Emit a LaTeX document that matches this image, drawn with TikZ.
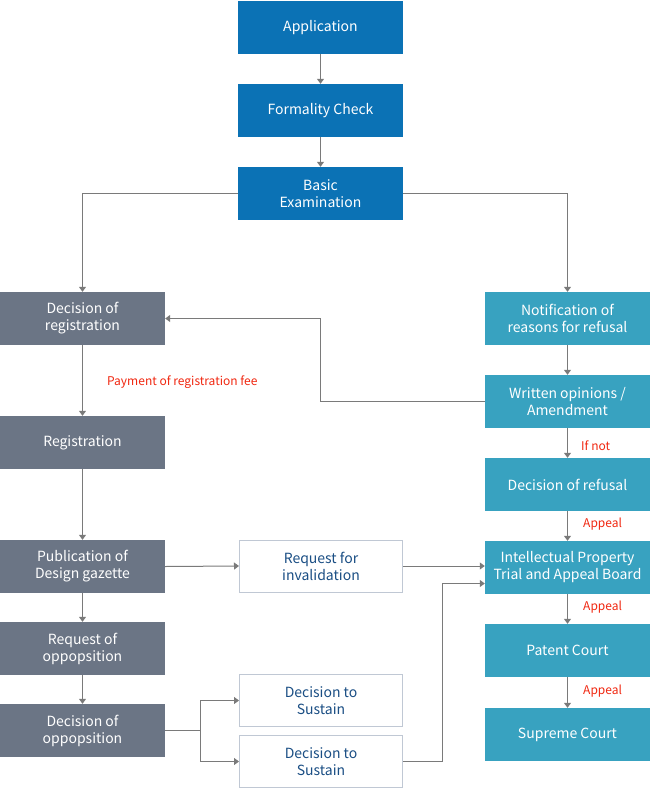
\documentclass[tikz,border=0pt]{standalone}
\usepackage{fontspec}
\setmainfont{Noto Sans CJK KR}
\usetikzlibrary{arrows.meta}
\definecolor{cblue}{HTML}{0B72B5}
\definecolor{cgray}{HTML}{6B7585}
\definecolor{cteal}{HTML}{38A2C0}
\definecolor{cline}{HTML}{7A7A7A}
\definecolor{cred}{HTML}{F0260F}
\definecolor{ctext}{HTML}{1A4E84}
\definecolor{cborder}{HTML}{C0C8D4}
\tikzset{
  x=1pt,y=-1pt,
  base/.style={minimum width=165pt,minimum height=53pt,inner sep=0pt,align=center,font=\fontsize{14}{17}\selectfont},
  bluebox/.style={base,fill=cblue,text=white},
  graybox/.style={base,fill=cgray,text=white},
  tealbox/.style={base,fill=cteal,text=white},
  whitebox/.style={base,fill=white,draw=cborder,line width=1pt,minimum width=163pt,minimum height=52pt,text=ctext},
  conn/.style={draw=cline,line width=1pt,-{Triangle[width=7pt,length=5pt]}},
  lbl/.style={text=cred,font=\fontsize{12}{14}\selectfont,inner sep=0pt,anchor=west},
}
\begin{document}
\begin{tikzpicture}
\useasboundingbox (0,0) rectangle (650,790);
\node[bluebox] (app) at (320.5,27.5) {Application};
\node[bluebox] (form) at (320.5,110.5) {Formality Check};
\node[bluebox] (basic) at (320.5,193.5) {Basic\\Examination};
\node[graybox] (decreg) at (82.5,318.5) {Decision of\\registration};
\node[graybox] (reg) at (82.5,442.5) {Registration};
\node[graybox] (pub) at (82.5,566.5) {Publication of\\Design gazette};
\node[graybox] (reqopp) at (82.5,648.5) {Request of\\oppopsition};
\node[graybox] (decopp) at (82.5,730.5) {Decision of\\oppopsition};
\node[tealbox] (notif) at (567.5,318.5) {Notification of\\reasons for refusal};
\node[tealbox] (written) at (567.5,401.5) {Written opinions /\\Amendment};
\node[tealbox] (refusal) at (567.5,484.5) {Decision of refusal};
\node[tealbox] (iptab) at (567.5,567.5) {Intellectual Property\\Trial and Appeal Board};
\node[tealbox] (patent) at (567.5,650.5) {Patent Court};
\node[tealbox] (supreme) at (567.5,734.5) {Supreme Court};
\node[whitebox] (inval) at (321,566) {Request for\\invalidation};
\node[whitebox] (sus1) at (321,700.5) {Decision to\\Sustain};
\node[whitebox] (sus2) at (321,761.5) {Decision to\\Sustain};
\coordinate (wl) at (320,401.5);
\coordinate (wt) at (320,318.5);
\coordinate (fork) at (200,730.5);
\coordinate (s2r) at (442,761.5);
\draw[conn] (app) -- (form);
\draw[conn] (form) -- (basic);
\draw[conn] (basic.west) -| (decreg.north);
\draw[conn] (basic.east) -| (notif.north);
\draw[conn] (written.west) -- (wl) -- (wt) -- (decreg.east);
\draw[conn] (decreg) -- (reg);
\draw[conn] (reg) -- (pub);
\draw[conn] (pub) -- (reqopp);
\draw[conn] (reqopp) -- (decopp);
\draw[conn] (notif) -- (written);
\draw[conn] (written) -- (refusal);
\draw[conn] (refusal) -- (iptab);
\draw[conn] (iptab) -- (patent);
\draw[conn] (patent) -- (supreme);
\draw[conn] (pub.east) -- (inval.west);
\draw[conn] (inval.east) -- (inval.east -| iptab.west);
\draw[conn] (sus2.east) -- (s2r) |- ([yshift=-16pt]iptab.west);
\draw[draw=cline,line width=1pt] (decopp.east) -- (fork);
\draw[conn] (fork) |- (sus1.west);
\draw[conn] (fork) |- (sus2.west);
\node[lbl] (l1) at (107,382) {Payment of registration fee};
\node[lbl] (l2) at (581,445.5) {If not};
\node[lbl] (l3) at (583,524) {Appeal};
\node[lbl] (l4) at (583,607.5) {Appeal};
\node[lbl] (l5) at (583,691) {Appeal};
\end{tikzpicture}
\end{document}
